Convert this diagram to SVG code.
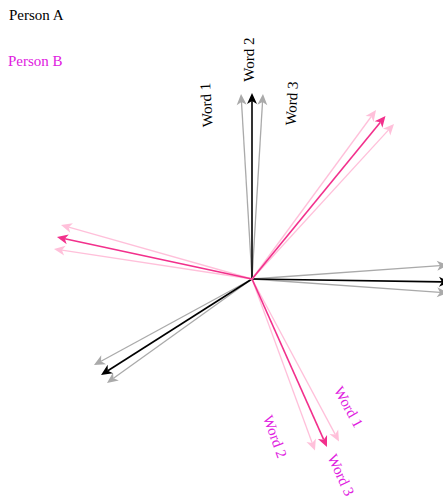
<svg xmlns="http://www.w3.org/2000/svg" width="443" height="498" viewBox="0 0 443 498">
<style>
  text { font-family: "Liberation Serif", "Times New Roman", serif; font-size: 15px; }
  .a { fill: #000000; }
  .b { fill: #e020e0; }
  .lbl { text-anchor: middle; dominant-baseline: central; }
  line { fill: none; }
  .k { stroke: #000000; stroke-width: 1.6; marker-end: url(#mk); }
  .g { stroke: #aaaaaa; stroke-width: 1.3; marker-end: url(#mg); }
  .p { stroke: #f2308c; stroke-width: 1.6; marker-end: url(#mp); }
  .lp { stroke: #ffc0da; stroke-width: 1.3; marker-end: url(#ml); }
</style>
<defs>
  <marker id="mk" markerUnits="userSpaceOnUse" viewBox="-4 -6 13 12" markerWidth="13" markerHeight="12" refX="0" refY="0" orient="auto"><path d="M8,0 L-3,-5 L0,0 L-3,5 Z" fill="#000000"/></marker>
  <marker id="mg" markerUnits="userSpaceOnUse" viewBox="-4 -6 13 12" markerWidth="13" markerHeight="12" refX="0" refY="0" orient="auto"><path d="M8,0 L-3,-5 L0,0 L-3,5 Z" fill="#aaaaaa"/></marker>
  <marker id="mp" markerUnits="userSpaceOnUse" viewBox="-4 -6 13 12" markerWidth="13" markerHeight="12" refX="0" refY="0" orient="auto"><path d="M8,0 L-3,-5 L0,0 L-3,5 Z" fill="#f2308c"/></marker>
  <marker id="ml" markerUnits="userSpaceOnUse" viewBox="-4 -6 13 12" markerWidth="13" markerHeight="12" refX="0" refY="0" orient="auto"><path d="M8,0 L-3,-5 L0,0 L-3,5 Z" fill="#ffc0da"/></marker>
</defs>
<rect width="443" height="498" fill="#ffffff"/>
<g id="connectors">
  <g id="personA-up">
    <line class="g" x1="252" y1="279" x2="241.5" y2="102"/>
    <line class="g" x1="252" y1="279" x2="262.5" y2="102"/>
    <line class="k" x1="252" y1="279" x2="252" y2="101"/>
  </g>
  <g id="personA-right">
    <line class="g" x1="252" y1="279" x2="440" y2="265.6"/>
    <line class="g" x1="252" y1="279" x2="440" y2="292.4"/>
    <line class="k" x1="252" y1="279" x2="442" y2="281.9"/>
  </g>
  <g id="personA-lowerleft">
    <line class="g" x1="252" y1="279" x2="101" y2="361.2"/>
    <line class="g" x1="252" y1="279" x2="113.5" y2="378.3"/>
    <line class="k" x1="252" y1="279" x2="107.8" y2="370.7"/>
  </g>
  <g id="personB-upperright">
    <line class="lp" x1="252" y1="279" x2="371.3" y2="116.5"/>
    <line class="lp" x1="252" y1="279" x2="388.6" y2="129.9"/>
    <line class="p" x1="252" y1="279" x2="380.4" y2="122.2"/>
  </g>
  <g id="personB-left">
    <line class="lp" x1="252" y1="279" x2="68.7" y2="227.2"/>
    <line class="lp" x1="252" y1="279" x2="61.9" y2="250.2"/>
    <line class="p" x1="252" y1="279" x2="64.8" y2="238.7"/>
  </g>
  <g id="personB-lower">
    <line class="lp" x1="252" y1="279" x2="312.2" y2="443"/>
    <line class="lp" x1="252" y1="279" x2="335.2" y2="434.4"/>
    <line class="p" x1="252" y1="279" x2="323.7" y2="439.7"/>
  </g>
</g>
<g id="legend-a"><text class="a" x="9" y="20">Person A</text></g>
<g id="legend-b"><text class="b" x="8" y="66">Person B</text></g>
<g id="a-word1"><text class="a lbl" transform="translate(206.5,105) rotate(-93.4)">Word 1</text></g>
<g id="a-word2"><text class="a lbl" transform="translate(249,59.7) rotate(-90)">Word 2</text></g>
<g id="a-word3"><text class="a lbl" transform="translate(291.7,103.5) rotate(-86.6)">Word 3</text></g>
<g id="b-word1"><text class="b lbl" transform="translate(348.5,407) rotate(61)">Word 1</text></g>
<g id="b-word2"><text class="b lbl" transform="translate(275,436.5) rotate(70)">Word 2</text></g>
<g id="b-word3"><text class="b lbl" transform="translate(341,475) rotate(65.7)">Word 3</text></g>
</svg>
